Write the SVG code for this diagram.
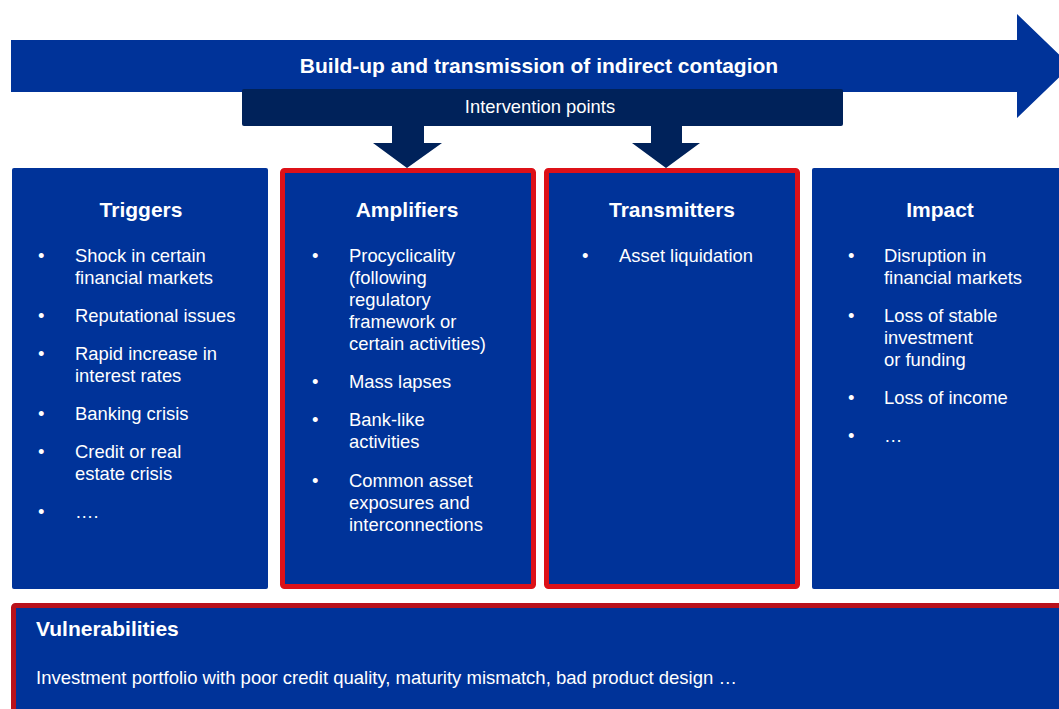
<svg xmlns="http://www.w3.org/2000/svg" width="1059" height="709" viewBox="0 0 1059 709">
<style>
.box{fill:#003399}
.red{fill:#003399;stroke:#DD1118;stroke-width:5}
.navy{fill:#00225A}
text{font-family:"Liberation Sans",Arial,sans-serif;fill:#ffffff}
.h{font-size:21px;font-weight:bold;text-anchor:middle}
.b{font-size:18.4px}
</style>
<rect width="1059" height="709" fill="#ffffff"/>
<g id="main-arrow">
<polygon class="box" points="11,40 1017,40 1017,14 1071,66 1017,118 1017,92 11,92"/>
<text x="539" y="73" class="h">Build-up and transmission of indirect contagion</text>
</g>
<g id="intervention">
<rect class="navy" x="242" y="89" width="601" height="37" rx="2"/>
<text x="540" y="113" style="font-size:18.4px" text-anchor="middle">Intervention points</text>
</g>
<g id="connectors">
<polygon class="navy" points="392,125 424,125 424,143 442,143 407,168 373,143 392,143"/>
<polygon class="navy" points="651,125 682,125 682,143 700,143 666,168 632,143 651,143"/>
</g>
<g id="triggers">
<rect class="box" x="12" y="168" width="256" height="421" rx="2"/>
<text x="141" y="217" class="h">Triggers</text>
<g class="b">
<text x="38" y="262">•</text><text x="75" y="262">Shock in certain</text><text x="75" y="284">financial markets</text>
<text x="38" y="322">•</text><text x="75" y="322">Reputational issues</text>
<text x="38" y="360">•</text><text x="75" y="360">Rapid increase in</text><text x="75" y="382">interest rates</text>
<text x="38" y="420">•</text><text x="75" y="420">Banking crisis</text>
<text x="38" y="458">•</text><text x="75" y="458">Credit or real</text><text x="75" y="480">estate crisis</text>
<text x="38" y="518">•</text><text x="75" y="518">….</text>
</g>
</g>
<g id="amplifiers">
<rect class="red" x="282.5" y="170.5" width="251" height="416" rx="2"/>
<text x="407" y="217" class="h">Amplifiers</text>
<g class="b">
<text x="312" y="262">•</text><text x="349" y="262">Procyclicality</text><text x="349" y="284">(following</text><text x="349" y="306">regulatory</text><text x="349" y="328">framework or</text><text x="349" y="350">certain activities)</text>
<text x="312" y="388">•</text><text x="349" y="388">Mass lapses</text>
<text x="312" y="426">•</text><text x="349" y="426">Bank-like</text><text x="349" y="448">activities</text>
<text x="312" y="487">•</text><text x="349" y="487">Common asset</text><text x="349" y="509">exposures and</text><text x="349" y="531">interconnections</text>
</g>
</g>
<g id="transmitters">
<rect class="red" x="546.5" y="170.5" width="251" height="416" rx="2"/>
<text x="672" y="217" class="h">Transmitters</text>
<g class="b">
<text x="582" y="262">•</text><text x="619" y="262">Asset liquidation</text>
</g>
</g>
<g id="impact">
<rect class="box" x="812" y="168" width="260" height="421" rx="2"/>
<text x="940" y="217" class="h">Impact</text>
<g class="b">
<text x="848" y="262">•</text><text x="884" y="262">Disruption in</text><text x="884" y="284">financial markets</text>
<text x="848" y="322">•</text><text x="884" y="322">Loss of stable</text><text x="884" y="344">investment</text><text x="884" y="366">or funding</text>
<text x="848" y="404">•</text><text x="884" y="404">Loss of income</text>
<text x="848" y="442">•</text><text x="884" y="442">…</text>
</g>
</g>
<g id="vulnerabilities">
<rect x="13.5" y="605.5" width="1060" height="120" fill="#003399" stroke="#B8121C" stroke-width="5" rx="2"/>
<text x="36" y="636" style="font-size:21px;font-weight:bold">Vulnerabilities</text>
<text x="36" y="684" style="font-size:18.5px">Investment portfolio with poor credit quality, maturity mismatch, bad product design …</text>
</g>
</svg>
